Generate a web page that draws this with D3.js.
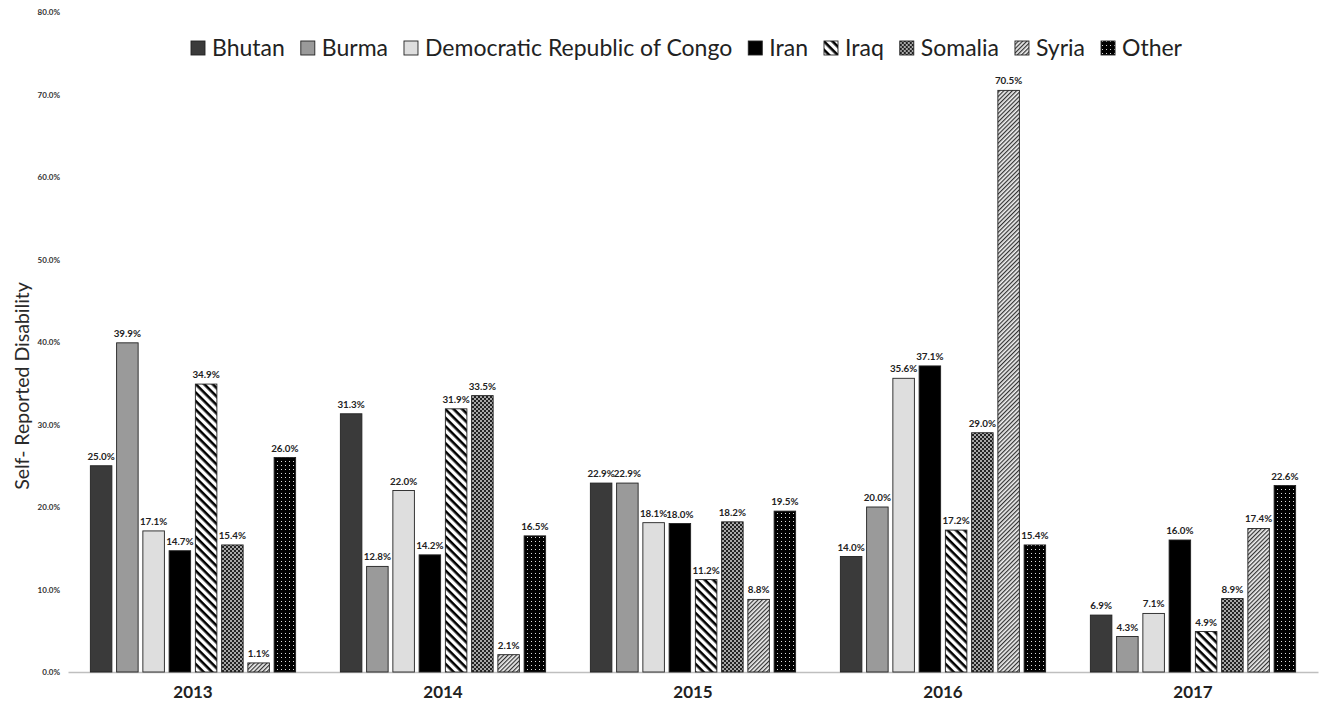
<!DOCTYPE html>
<html><head><meta charset="utf-8">
<script src="https://cdn.jsdelivr.net/npm/d3@7"></script>
<style>
html,body{margin:0;padding:0;background:#fff;}
svg{display:block;font-family:Lato, "Liberation Sans", sans-serif;}
</style></head>
<body>
<svg id="chart" width="1326" height="707"></svg>
<script>
const years = ["2013","2014","2015","2016","2017"];
const series = ["Bhutan","Burma","Democratic Republic of Congo","Iran","Iraq","Somalia","Syria","Other"];
const bhutan = [25.0,31.3,22.9,14.0,6.9];
const burma  = [39.9,12.8,22.9,20.0,4.3];
const drc    = [17.1,22.0,18.1,35.6,7.1];
const iran   = [14.7,14.2,18.0,37.1,16.0];
const iraq   = [34.9,31.9,11.2,17.2,4.9];
const somalia= [15.4,33.5,18.2,29.0,8.9];
const syria  = [1.1,2.1,8.8,70.5,17.4];
const other  = [26.0,16.5,19.5,15.4,22.6];
const yTicks = [0,10,20,30,40,50,60,70,80];
const values = [bhutan,burma,drc,iran,iraq,somalia,syria,other];

const svg = d3.select("#chart");
const defs = svg.append("defs");

// patterns
const pIraq = defs.append("pattern").attr("id","pIraq").attr("patternUnits","userSpaceOnUse")
  .attr("width",6).attr("height",6).attr("patternTransform","rotate(45)");
pIraq.append("rect").attr("width",6).attr("height",6).attr("fill","#fff");
pIraq.append("rect").attr("width",6).attr("height",2.6).attr("fill","#000");

const pSom = defs.append("pattern").attr("id","pSom").attr("patternUnits","userSpaceOnUse")
  .attr("width",4).attr("height",4);
pSom.append("rect").attr("width",4).attr("height",4).attr("fill","#a8a8a8");
pSom.append("rect").attr("width",2).attr("height",2).attr("fill","#222");
pSom.append("rect").attr("x",2).attr("y",2).attr("width",2).attr("height",2).attr("fill","#222");

const pSyr = defs.append("pattern").attr("id","pSyr").attr("patternUnits","userSpaceOnUse")
  .attr("width",3).attr("height",3).attr("patternTransform","rotate(-45)");
pSyr.append("rect").attr("width",3).attr("height",3).attr("fill","#eee");
pSyr.append("rect").attr("width",3).attr("height",1.2).attr("fill","#333");

const pOth = defs.append("pattern").attr("id","pOth").attr("patternUnits","userSpaceOnUse")
  .attr("width",4).attr("height",4);
pOth.append("rect").attr("width",4).attr("height",4).attr("fill","#000");
pOth.append("rect").attr("x",1).attr("y",1).attr("width",1).attr("height",1).attr("fill","#ddd");

const fills = ["#3a3a3a","#9a9a9a","#dedede","#000","url(#pIraq)","url(#pSom)","url(#pSyr)","url(#pOth)"];
const color = d3.scaleOrdinal().domain(series).range(fills);

const x0 = d3.scaleBand().domain(years).range([68,1318]).padding(0);
const x1 = d3.scaleBand().domain(series).range([20,230]).paddingInner(0.18).paddingOuter(0.09);
const y = d3.scaleLinear().domain([0,80]).range([672,12]);

// y tick labels
const yAxis = d3.axisLeft(y).tickValues(yTicks).tickFormat(d=>d3.format(".1f")(d)+"%").tickSize(0).tickPadding(0);
const gy = svg.append("g").attr("transform","translate(60,0)").call(yAxis);
gy.select(".domain").remove();
gy.selectAll("text").attr("font-size",8).attr("font-weight","bold").attr("fill","#333")
  .attr("font-family","Lato, sans-serif");

// x axis
const xAxis = d3.axisBottom(x0).tickSize(0).tickPadding(14);
const gx = svg.append("g").attr("transform","translate(0,672)").call(xAxis);
gx.select(".domain").attr("stroke","#bfbfbf").attr("stroke-width",1.3);
gx.selectAll("text").attr("font-size",17).attr("font-weight","bold").attr("fill","#222")
  .attr("font-family","Lato, sans-serif");

// bars
const groups = svg.append("g").selectAll("g").data(years).join("g")
  .attr("transform",d=>`translate(${x0(d)},0)`);
groups.each(function(yr,i){
  const g = d3.select(this);
  const data = series.map((s,k)=>({s, v: values[k][i]}));
  g.selectAll("rect").data(data).join("rect")
    .attr("x",d=>x1(d.s)).attr("width",x1.bandwidth())
    .attr("y",d=>y(d.v)).attr("height",d=>y(0)-y(d.v))
    .attr("fill",d=>color(d.s)).attr("stroke","#222").attr("stroke-width",0.9);
  g.selectAll("text").data(data).join("text")
    .attr("x",d=>x1(d.s)+x1.bandwidth()/2).attr("y",d=>y(d.v)-6)
    .attr("text-anchor","middle").attr("font-size",9.8).attr("font-weight","bold").attr("fill","#222")
    .text(d=>d.v.toFixed(1)+"%");
});

// y title
svg.append("text").attr("transform","translate(29,386) rotate(-90)")
  .attr("text-anchor","middle").attr("font-size",19.5).attr("fill","#2a2a2a")
  .text("Self- Reported Disability");

// legend
const leg = svg.append("g");
const fs = 23;
const gap = 16;
let xpos = 0;
series.forEach(s=>{
  const it = leg.append("g");
  it.append("rect").attr("x",0).attr("y",-7).attr("width",14).attr("height",14)
    .attr("fill",color(s)).attr("stroke","#222").attr("stroke-width",0.9);
  const t = it.append("text").attr("x",21).attr("y",0).attr("dy","0.35em")
    .attr("font-size",fs).attr("fill","#222").text(s);
  const w = 21 + t.node().getComputedTextLength();
  it.attr("transform",`translate(${xpos},48)`);
  xpos += w + gap;
});
const total = xpos - gap;
leg.attr("transform",`translate(${(190+1183)/2 - total/2},0)`);
</script>
</body></html>
